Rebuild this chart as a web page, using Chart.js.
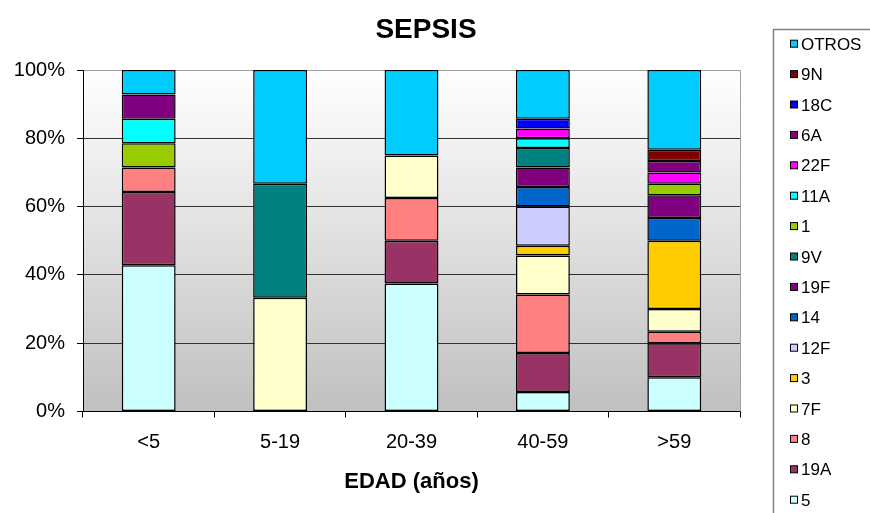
<!DOCTYPE html>
<html>
<head>
<meta charset="utf-8">
<script src="https://cdn.jsdelivr.net/npm/chart.js@4/dist/chart.umd.min.js"></script>
<style>
  html, body { margin: 0; padding: 0; background: #ffffff; }
  #wrap { width: 870px; height: 513px; position: relative; }
</style>
</head>
<body>
<div id="wrap"><canvas id="c" width="870" height="513"></canvas></div>
<script>
// ---- Data (counts per age group) ----
const categories = ['<5', '5-19', '20-39', '40-59', '>59'];
const yTickLabels = ['0%', '20%', '40%', '60%', '80%', '100%'];

// series listed from the bottom of the stack to the top
const seriesNames = ['5', '19A', '8', '7F', '3', '12F', '14', '19F', '9V', '1', '11A', '22F', '6A', '18C', '9N', 'OTROS'];
const s5     = [6, 0, 3, 2, 3];
const s19A   = [3, 0, 1, 4, 3];
const s8     = [1, 0, 1, 6, 1];
const s7F    = [0, 1, 1, 4, 2];
const s3     = [0, 0, 0, 1, 6];
const s12F   = [0, 0, 0, 4, 0];
const s14    = [0, 0, 0, 2, 2];
const s19F   = [0, 0, 0, 2, 2];
const s9V    = [0, 1, 0, 2, 0];
const s1     = [1, 0, 0, 0, 1];
const s11A   = [1, 0, 0, 1, 0];
const s22F   = [0, 0, 0, 1, 1];
const s6A    = [1, 0, 0, 0, 1];
const s18C   = [0, 0, 0, 1, 0];
const s9N    = [0, 0, 0, 0, 1];
const sOTROS = [1, 1, 2, 5, 7];
const seriesCounts = [s5, s19A, s8, s7F, s3, s12F, s14, s19F, s9V, s1, s11A, s22F, s6A, s18C, s9N, sOTROS];

const seriesColors = ['#CCFFFF', '#993366', '#FF8080', '#FFFFCC', '#FFCC00', '#CCCCFF', '#0066CC', '#800080',
                      '#008080', '#99CC00', '#00FFFF', '#FF00FF', '#800080', '#0000FF', '#800000', '#00CCFF'];

// ---- 100% stacking ----
const totals = categories.map((_, i) => seriesCounts.reduce((a, s) => a + s[i], 0));
const datasets = seriesNames.map((name, k) => ({
  label: name,
  data: seriesCounts[k].map((v, i) => v === 0 ? null : v / totals[i] * 100),
  backgroundColor: seriesColors[k],
  borderColor: '#000000',
  borderWidth: 1.5,
  borderSkipped: false,
  barPercentage: 0.41,
  categoryPercentage: 1.0
}));

const FONT = 'Arial, "Liberation Sans", sans-serif';

const decorPlugin = {
  id: 'decor',
  beforeDraw(chart) {
    const { ctx, chartArea: a } = chart;
    const g = ctx.createLinearGradient(0, a.top, 0, a.bottom);
    g.addColorStop(0, '#ffffff');
    g.addColorStop(1, '#c0c0c0');
    ctx.save();
    ctx.fillStyle = g;
    ctx.fillRect(a.left, a.top, a.right - a.left, a.bottom - a.top);
    ctx.restore();
  },
  afterDraw(chart) {
    const { ctx, chartArea: a } = chart;
    ctx.save();
    // right plot border
    ctx.strokeStyle = '#a0a0a0';
    ctx.lineWidth = 1;
    ctx.beginPath();
    ctx.moveTo(Math.round(a.right) + 0.5, a.top);
    ctx.lineTo(Math.round(a.right) + 0.5, a.bottom);
    ctx.stroke();

    // title
    ctx.fillStyle = '#000';
    ctx.font = 'bold 28px ' + FONT;
    ctx.textAlign = 'center';
    ctx.textBaseline = 'alphabetic';
    ctx.fillText('SEPSIS', 426, 38);

    // legend box
    ctx.strokeStyle = '#808080';
    ctx.lineWidth = 1.5;
    ctx.strokeRect(773.5, 29.5, 200, 600);

    // legend entries (top = last dataset)
    const ds = chart.data.datasets;
    ctx.font = '17px ' + FONT;
    ctx.textAlign = 'left';
    ctx.lineWidth = 1;
    for (let i = 0; i < ds.length; i++) {
      const d = ds[ds.length - 1 - i];
      const cy = 43.7 + i * 30.4;
      ctx.fillStyle = d.backgroundColor;
      ctx.fillRect(790.5, cy - 3.5, 7, 7);
      ctx.strokeStyle = '#000';
      ctx.strokeRect(790.5, cy - 3.5, 7, 7);
      ctx.fillStyle = '#000';
      ctx.fillText(d.label, 801, cy + 6);
    }
    ctx.restore();
  }
};

new Chart(document.getElementById('c'), {
  type: 'bar',
  data: { labels: categories, datasets },
  options: {
    responsive: false,
    animation: false,
    devicePixelRatio: 1,
    layout: { padding: { left: 0, right: 130, top: 70, bottom: 0 } },
    plugins: {
      legend: { display: false },
      title: { display: false },
      tooltip: { enabled: false }
    },
    scales: {
      x: {
        stacked: true,
        offset: true,
        afterFit: s => { s.height = 513 - 411.5; },
        grid: { display: true, drawOnChartArea: false, drawTicks: true, tickLength: 6, offset: true, color: '#000' },
        border: { display: true, color: '#000', width: 1 },
        ticks: { color: '#000', font: { family: FONT, size: 20 }, padding: 13, maxRotation: 0 },
        title: {
          display: true, text: 'EDAD (años)', color: '#000',
          font: { family: FONT, size: 22, weight: 'bold' },
          padding: { top: 0, bottom: 18 }
        }
      },
      y: {
        stacked: true,
        min: 0, max: 100,
        afterFit: s => { s.width = 83; },
        afterBuildTicks: s => { s.ticks = yTickLabels.map((_, i) => ({ value: i * 20 })); },
        grid: {
          color: c => (c.tick && c.tick.value === 100) ? '#a0a0a0' : '#333333',
          tickColor: '#000',
          tickLength: 6,
          lineWidth: 1
        },
        border: { display: true, color: '#000', width: 1 },
        ticks: {
          color: '#000',
          font: { family: FONT, size: 20 },
          padding: 12,
          callback: (v, i) => yTickLabels[i]
        }
      }
    }
  },
  plugins: [decorPlugin]
});
</script>
</body>
</html>
